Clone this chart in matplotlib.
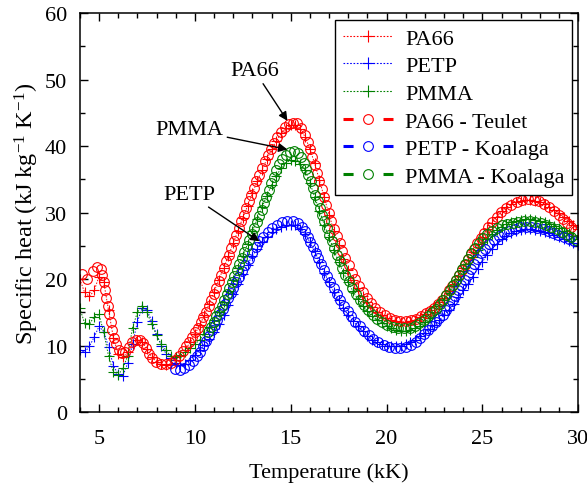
import matplotlib
matplotlib.use("Agg")
import matplotlib.pyplot as plt
from matplotlib.lines import Line2D
from matplotlib.ticker import MultipleLocator

plt.rcParams["font.family"] = ["Liberation Serif", "DejaVu Serif"]
plt.rcParams["font.size"] = 16
plt.rcParams["mathtext.fontset"] = "custom"
plt.rcParams["mathtext.rm"] = "Liberation Serif"
plt.rcParams["mathtext.it"] = "Liberation Serif:italic"

# ---- calculated specific heat on the temperature grid (kK) ----
T_grid = [4.00, 4.25, 4.50, 4.75, 5.00, 5.25, 5.50, 5.75, 6.00, 6.25, 6.50, 6.75,
          7.00, 7.25, 7.50, 7.75, 8.00, 8.25, 8.50, 8.75, 9.00, 9.25, 9.50, 9.75,
          10.00, 10.25, 10.50, 10.75, 11.00, 11.25, 11.50, 11.75, 12.00, 12.25, 12.50, 12.75,
          13.00, 13.25, 13.50, 13.75, 14.00, 14.25, 14.50, 14.75, 15.00, 15.25, 15.50, 15.75,
          16.00, 16.25, 16.50, 16.75, 17.00, 17.25, 17.50, 17.75, 18.00, 18.25, 18.50, 18.75,
          19.00, 19.25, 19.50, 19.75, 20.00, 20.25, 20.50, 20.75, 21.00, 21.25, 21.50, 21.75,
          22.00, 22.25, 22.50, 22.75, 23.00, 23.25, 23.50, 23.75, 24.00, 24.25, 24.50, 24.75,
          25.00, 25.25, 25.50, 25.75, 26.00, 26.25, 26.50, 26.75, 27.00, 27.25, 27.50, 27.75,
          28.00, 28.25, 28.50, 28.75, 29.00, 29.25, 29.50, 29.75, 30.00]

cp_pa66 = [20.0, 18.0, 17.4, 18.3, 20.4, 19.5, 15.3, 11.2, 8.8, 8.3, 9.0, 10.3,
           10.9, 10.6, 9.5, 8.3, 7.6, 7.2, 7.1, 7.3, 7.8, 8.5, 9.4, 10.5,
           11.7, 13.1, 14.6, 16.3, 18.1, 19.9, 21.7, 23.5, 25.4, 27.3, 29.2, 31.0,
           32.9, 34.7, 36.4, 38.0, 39.5, 40.8, 41.9, 42.7, 43.1, 43.1, 42.6, 41.4,
           39.6, 37.4, 34.9, 32.3, 29.7, 27.3, 25.1, 23.1, 21.4, 19.9, 18.6, 17.5,
           16.6, 15.8, 15.1, 14.6, 14.2, 13.9, 13.7, 13.6, 13.6, 13.7, 13.9, 14.3,
           14.8, 15.3, 15.9, 16.6, 17.2, 18.2, 19.3, 20.5, 21.7, 22.9, 24.1, 25.3,
           26.4, 27.5, 28.5, 29.4, 30.2, 30.8, 31.3, 31.6, 31.8, 31.9, 31.9, 31.8,
           31.6, 31.3, 30.9, 30.4, 29.9, 29.3, 28.7, 28.1, 27.5]

cp_petp = [9.4, 9.0, 9.9, 11.3, 12.9, 12.1, 9.8, 7.0, 5.7, 5.5, 7.4, 10.2,
           13.6, 15.6, 15.4, 13.7, 11.7, 10.0, 8.8, 8.1, 7.4, 7.1, 7.3, 7.9,
           8.6, 9.3, 10.1, 11.0, 12.0, 13.2, 14.6, 16.1, 17.7, 19.3, 20.8, 22.2,
           23.5, 24.6, 25.6, 26.4, 27.1, 27.6, 27.9, 28.1, 28.2, 28.1, 27.6, 26.8,
           25.6, 24.2, 22.6, 21.0, 19.5, 18.1, 16.8, 15.6, 14.6, 13.7, 12.9, 12.2,
           11.5, 10.9, 10.5, 10.2, 10.0, 9.9, 9.9, 10.0, 10.2, 10.5, 10.9, 11.4,
           11.9, 12.5, 13.1, 13.8, 14.6, 15.4, 16.3, 17.3, 18.3, 19.3, 20.4, 21.5,
           22.6, 23.6, 24.5, 25.3, 26.0, 26.5, 26.9, 27.2, 27.4, 27.5, 27.5, 27.4,
           27.3, 27.1, 26.9, 26.6, 26.3, 26.0, 25.7, 25.4, 25.1]

cp_pmma = [15.6, 13.4, 13.3, 14.3, 14.7, 12.0, 8.4, 6.0, 5.6, 6.6, 8.5, 12.7,
           15.0, 16.0, 15.0, 13.2, 11.6, 10.2, 9.3, 8.4, 8.3, 8.6, 9.1, 9.6,
           10.2, 10.9, 11.8, 12.8, 13.9, 15.1, 16.6, 18.2, 19.9, 21.7, 23.5, 25.3,
           27.2, 29.0, 30.8, 32.5, 34.1, 35.5, 36.7, 37.5, 37.9, 37.8, 37.3, 36.4,
           34.5, 32.4, 30.3, 28.2, 26.3, 24.4, 22.6, 21.0, 19.5, 18.2, 17.0, 16.0,
           15.2, 14.5, 13.9, 13.4, 13.0, 12.6, 12.3, 12.2, 12.2, 12.3, 12.6, 13.0,
           13.5, 14.2, 15.0, 15.9, 16.9, 17.9, 19.0, 20.1, 21.2, 22.3, 23.4, 24.4,
           25.3, 26.1, 26.8, 27.4, 27.9, 28.3, 28.6, 28.8, 28.9, 29.0, 29.0, 28.9,
           28.8, 28.6, 28.3, 28.0, 27.7, 27.3, 26.9, 26.5, 26.1]

# ---- reference data sets ----
T_teulet = [4.12, 4.40, 4.68, 4.92, 5.08, 5.18, 5.25, 5.32, 5.39, 5.46, 5.53, 5.60,
            5.68, 5.77, 5.88, 6.02, 6.20, 6.38, 6.55, 6.72, 6.92, 7.12, 7.30, 7.45,
            7.60, 7.78, 7.98, 8.22, 8.48, 8.75, 8.98, 9.18, 9.36, 9.53, 9.69, 9.85,
            10.00, 10.15, 10.30, 10.44, 10.58, 10.72, 10.85, 10.98, 11.11, 11.24, 11.37, 11.50,
            11.63, 11.76, 11.89, 12.02, 12.15, 12.28, 12.41, 12.54, 12.67, 12.80, 12.93, 13.07,
            13.21, 13.35, 13.50, 13.65, 13.81, 13.97, 14.14, 14.31, 14.49, 14.68, 14.89, 15.11,
            15.34, 15.55, 15.73, 15.88, 16.01, 16.13, 16.25, 16.37, 16.49, 16.61, 16.73, 16.86,
            16.99, 17.12, 17.26, 17.40, 17.55, 17.70, 17.86, 18.02, 18.19, 18.37, 18.56, 18.76,
            18.97, 19.19, 19.42, 19.66, 19.91, 20.17, 20.44, 20.72, 21.00, 21.28, 21.55, 21.80,
            22.04, 22.27, 22.49, 22.70, 22.90, 23.09, 23.27, 23.44, 23.60, 23.76, 23.92, 24.08,
            24.24, 24.40, 24.57, 24.74, 24.92, 25.11, 25.31, 25.52, 25.75, 25.99, 26.25, 26.52,
            26.80, 27.09, 27.38, 27.67, 27.96, 28.24, 28.50, 28.75, 28.99, 29.22, 29.44, 29.65,
            29.85]
cp_teulet = [20.8, 20.0, 21.3, 21.9, 21.6, 20.6, 19.5, 18.3, 17.1, 15.9, 14.7, 13.5,
             12.3, 11.2, 10.2, 9.4, 8.9, 9.1, 9.8, 10.5, 10.9, 10.9, 10.4, 9.6,
             8.8, 8.1, 7.6, 7.3, 7.2, 7.4, 7.9, 8.5, 9.2, 9.9, 10.6, 11.3,
             12.0, 12.7, 13.5, 14.3, 15.1, 16.0, 16.9, 17.8, 18.7, 19.7, 20.7, 21.7,
             22.7, 23.7, 24.7, 25.7, 26.7, 27.7, 28.7, 29.7, 30.7, 31.7, 32.7, 33.7,
             34.7, 35.7, 36.7, 37.7, 38.7, 39.6, 40.5, 41.3, 42.1, 42.8, 43.3, 43.5,
             43.4, 42.7, 41.7, 40.6, 39.5, 38.4, 37.2, 36.0, 34.8, 33.6, 32.4, 31.2,
             30.0, 28.8, 27.6, 26.5, 25.4, 24.3, 23.2, 22.1, 21.0, 20.0, 19.0, 18.1,
             17.2, 16.4, 15.7, 15.1, 14.6, 14.2, 13.9, 13.7, 13.7, 13.8, 14.0, 14.4,
             14.9, 15.2, 15.7, 16.3, 16.9, 17.6, 18.3, 19.0, 19.8, 20.6, 21.4, 22.2,
             23.0, 23.8, 24.6, 25.4, 26.2, 27.0, 27.8, 28.6, 29.4, 30.1, 30.7, 31.2,
             31.6, 31.9, 32.0, 31.9, 31.7, 31.3, 30.8, 30.3, 29.7, 29.1, 28.5, 27.9,
             27.3]

T_koalaga_petp = [8.98, 9.22, 9.46, 9.68, 9.90, 10.10, 10.28, 10.45, 10.60, 10.75, 10.89, 11.03,
                  11.17, 11.31, 11.45, 11.59, 11.73, 11.87, 12.01, 12.16, 12.31, 12.47, 12.63, 12.80,
                  12.98, 13.17, 13.37, 13.58, 13.80, 14.03, 14.28, 14.55, 14.83, 15.11, 15.36, 15.57,
                  15.74, 15.89, 16.03, 16.17, 16.31, 16.45, 16.60, 16.75, 16.91, 17.07, 17.24, 17.41,
                  17.59, 17.78, 17.97, 18.17, 18.38, 18.60, 18.83, 19.07, 19.32, 19.58, 19.85, 20.13,
                  20.42, 20.71, 21.00, 21.27, 21.52, 21.75, 21.97, 22.18, 22.38, 22.57, 22.76, 22.94,
                  23.11, 23.27, 23.43, 23.59, 23.75, 23.91, 24.07, 24.23, 24.39, 24.56, 24.74, 24.93,
                  25.13, 25.35, 25.59, 25.85, 26.12, 26.40, 26.69, 26.98, 27.27, 27.56, 27.85, 28.14,
                  28.42, 28.70, 28.97, 29.24, 29.50, 29.76]
cp_koalaga_petp = [6.5, 6.3, 6.6, 7.1, 7.7, 8.4, 9.1, 9.9, 10.7, 11.5, 12.3, 13.1,
                   13.9, 14.7, 15.5, 16.3, 17.1, 17.9, 18.7, 19.5, 20.4, 21.3, 22.2, 23.1,
                   24.0, 24.9, 25.7, 26.4, 27.1, 27.7, 28.2, 28.6, 28.8, 28.8, 28.5, 27.9,
                   27.2, 26.4, 25.6, 24.8, 24.0, 23.2, 22.3, 21.4, 20.5, 19.6, 18.7, 17.8,
                   16.9, 16.0, 15.2, 14.4, 13.6, 12.9, 12.2, 11.6, 11.0, 10.5, 10.1, 9.8,
                   9.6, 9.6, 9.8, 10.1, 10.6, 11.1, 11.7, 12.3, 12.9, 13.5, 14.1, 14.6,
                   15.3, 16.0, 16.7, 17.5, 18.3, 19.1, 19.9, 20.7, 21.5, 22.3, 23.1, 23.9,
                   24.6, 25.3, 25.9, 26.5, 27.0, 27.3, 27.6, 27.8, 27.8, 27.8, 27.7, 27.5,
                   27.3, 27.0, 26.7, 26.4, 26.1, 25.8]

T_koalaga_pmma = [10.70, 10.84, 10.98, 11.12, 11.26, 11.40, 11.53, 11.66, 11.79, 11.92, 12.05, 12.18,
                  12.31, 12.44, 12.57, 12.70, 12.83, 12.96, 13.09, 13.22, 13.35, 13.48, 13.61, 13.73,
                  13.85, 13.98, 14.11, 14.25, 14.40, 14.56, 14.74, 14.94, 15.16, 15.36, 15.53, 15.67,
                  15.80, 15.92, 16.04, 16.16, 16.28, 16.40, 16.52, 16.64, 16.76, 16.88, 17.01, 17.14,
                  17.27, 17.41, 17.55, 17.70, 17.86, 18.03, 18.21, 18.40, 18.60, 18.81, 19.03, 19.27,
                  19.52, 19.78, 20.05, 20.33, 20.62, 20.91, 21.20, 21.47, 21.72, 21.95, 22.17, 22.38,
                  22.58, 22.77, 22.95, 23.12, 23.29, 23.45, 23.61, 23.77, 23.93, 24.09, 24.26, 24.43,
                  24.61, 24.81, 25.02, 25.25, 25.49, 25.75, 26.02, 26.30, 26.59, 26.88, 27.17, 27.46,
                  27.75, 28.04, 28.32, 28.60, 28.87, 29.13, 29.39, 29.65, 29.90]
cp_koalaga_pmma = [12.0, 12.8, 13.6, 14.4, 15.2, 16.0, 16.9, 17.8, 18.7, 19.6, 20.5, 21.4,
                   22.3, 23.2, 24.1, 25.0, 25.9, 26.8, 27.7, 28.6, 29.5, 30.4, 31.4, 32.4,
                   33.4, 34.4, 35.4, 36.4, 37.3, 38.1, 38.7, 39.1, 39.2, 38.9, 38.3, 37.5,
                   36.6, 35.7, 34.7, 33.7, 32.7, 31.7, 30.7, 29.7, 28.7, 27.7, 26.7, 25.7,
                   24.7, 23.7, 22.7, 21.7, 20.7, 19.7, 18.7, 17.8, 16.9, 16.1, 15.3, 14.6,
                   14.0, 13.5, 13.1, 12.8, 12.6, 12.6, 12.7, 13.0, 13.4, 13.9, 14.5, 15.0,
                   15.5, 16.2, 16.9, 17.6, 18.3, 19.1, 19.9, 20.7, 21.5, 22.3, 23.1, 23.9,
                   24.7, 25.5, 26.2, 26.8, 27.3, 27.7, 28.1, 28.3, 28.5, 28.6, 28.7, 28.7,
                   28.6, 28.5, 28.2, 27.9, 27.5, 27.1, 26.7, 26.3, 25.9]

RED, BLUE, GREEN = "#ff0000", "#0000ff", "#008000"

fig = plt.figure(figsize=(5.87, 4.85), dpi=100)
ax = fig.add_axes([0.136, 0.148, 0.849, 0.823])

calc_style = dict(ls=(0, (1.5, 1.5)), lw=0.7, marker="+", ms=7, mew=0.8)
ref_style = dict(ls="none", marker="o", ms=7.0, mfc="none", mew=0.8)

ax.plot(T_grid, cp_pa66, color=RED, **calc_style)
ax.plot(T_grid, cp_petp, color=BLUE, **calc_style)
ax.plot(T_grid, cp_pmma, color=GREEN, **calc_style)
ax.plot(T_teulet, cp_teulet, mec=RED, **ref_style)
ax.plot(T_koalaga_petp, cp_koalaga_petp, mec=BLUE, **ref_style)
ax.plot(T_koalaga_pmma, cp_koalaga_pmma, mec=GREEN, **ref_style)

ax.set_xlim(4, 30)
ax.set_ylim(0, 60)
ax.xaxis.set_major_locator(MultipleLocator(5))
ax.xaxis.set_minor_locator(MultipleLocator(1))
ax.yaxis.set_major_locator(MultipleLocator(10))
ax.yaxis.set_minor_locator(MultipleLocator(5))
ax.tick_params(which="both", direction="in", top=True, right=True, width=1.0)
ax.tick_params(which="major", length=6)
ax.tick_params(which="minor", length=3.5)
ax.tick_params(axis="x", which="major", pad=12)
ax.tick_params(axis="y", which="major", pad=9)
for sp in ax.spines.values():
    sp.set_linewidth(1.1)

ax.set_xlabel("Temperature (kK)", labelpad=10)
ax.set_ylabel("Specific heat (kJ kg$^{-1}$ K$^{-1}$)", fontsize=17.5, labelpad=3)

arrow = dict(arrowstyle="-|>", color="black", lw=1.0, mutation_scale=13,
             shrinkA=1, shrinkB=0)
ax.annotate("PA66", xy=(14.83, 43.8), xytext=(13.1, 51.4), ha="center", va="center",
            arrowprops=arrow)
ax.annotate("PMMA", xy=(14.83, 39.5), xytext=(9.7, 42.5), ha="center", va="center",
            arrowprops=arrow)
ax.annotate("PETP", xy=(13.37, 25.7), xytext=(9.7, 32.8), ha="center", va="center",
            arrowprops=arrow)

calc_h = dict(ls=(0, (1.5, 1.5)), lw=0.8, marker="+", ms=8, mew=0.8)
ref_h = dict(ls=(0, (3.3, 9.8)), lw=2.2, marker="o", ms=7, mfc="none", mew=0.8)
handles = [
    Line2D([], [], color=RED, **calc_h),
    Line2D([], [], color=BLUE, **calc_h),
    Line2D([], [], color=GREEN, **calc_h),
    Line2D([], [], color=RED, mec=RED, **ref_h),
    Line2D([], [], color=BLUE, mec=BLUE, **ref_h),
    Line2D([], [], color=GREEN, mec=GREEN, **ref_h),
]
labels = ["PA66", "PETP", "PMMA", "PA66 - Teulet", "PETP - Koalaga", "PMMA - Koalaga"]
leg = ax.legend(handles, labels, loc="upper right", bbox_to_anchor=(0.988, 0.982),
                borderaxespad=0, numpoints=1, handlelength=2.25, handletextpad=0.55,
                labelspacing=0.32, borderpad=0.35, fancybox=False, framealpha=1,
                edgecolor="black")
leg.get_frame().set_linewidth(1.0)

fig.savefig("out.png", dpi=100)
